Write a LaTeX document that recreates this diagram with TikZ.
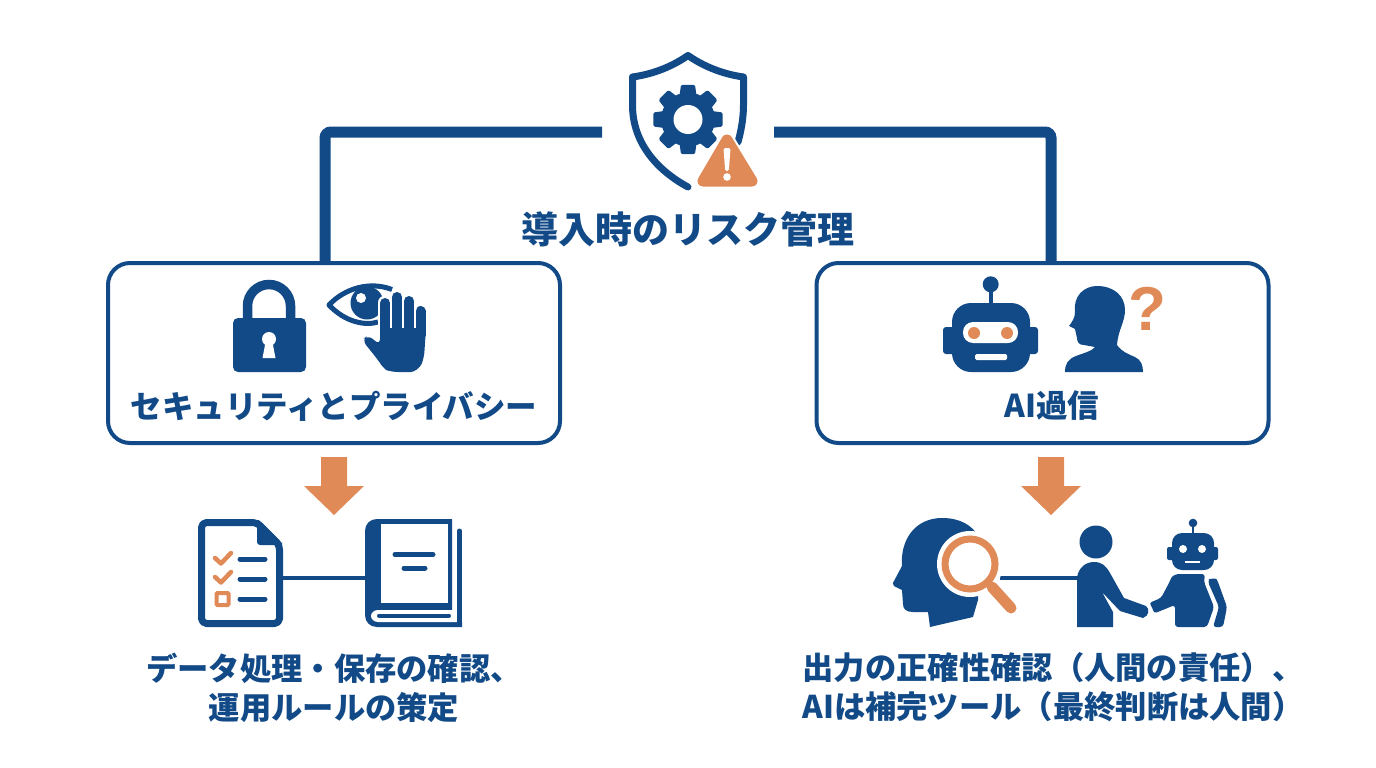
\documentclass[tikz,border=0pt]{standalone}
\usepackage{fontspec}
\setmainfont{Noto Sans CJK JP}
\newfontfamily\latinbold{Liberation Sans}
\definecolor{navy}{HTML}{124A87}
\definecolor{orng}{HTML}{E08A58}
\tikzset{
  link/.style={draw=navy,line width=11pt,rounded corners=6pt},
  thin link/.style={draw=navy,line width=4pt},
  panel/.style={draw=navy,line width=4pt,rounded corners=22pt,fill=white,minimum width=452pt,minimum height=180pt,inner sep=0pt},
  title text/.style={text=navy,font=\fontsize{37}{44}\selectfont\bfseries,inner sep=0pt},
  panel text/.style={text=navy,font=\fontsize{31.5}{38}\selectfont\bfseries,inner sep=0pt},
  foot text/.style={text=navy,font=\fontsize{31.3}{39}\selectfont\bfseries,align=center,inner sep=0pt},
  down arrow/.style={fill=orng,draw=none},
  navy line/.style={draw=navy,line width=5pt,line cap=round},
}
\begin{document}
\begin{tikzpicture}[x=1pt,y=-1pt]
\useasboundingbox[fill=white] (0,0) rectangle (1376,768);

% panels and texts
\node[panel] (secbox) at (334,353) {};
\node[panel] (aibox) at (1042.5,353) {};
\node[title text] (title) at (688,229) {導入時のリスク管理};
\node[panel text] (seclabel) at (334,406) {セキュリティとプライバシー};
\node[panel text] (ailabel) at (1052,406) {AI過信};
\node[foot text] (secfoot) at (334,688) {データ処理・保存の確認、\\運用ルールの策定};
\node[foot text] (aifoot) at (1053,687) {出力の正確性確認（人間の責任）、\\AIは補完ツール（最終判断は人間）};

% connectors from the top icon
\coordinate (topL) at (602,132);
\coordinate (topR) at (774,132);
\draw[link] (topL) -| (secbox.north -| 325,0);
\draw[link] (topR) -| (aibox.north -| 1051,0);

% shield
\draw[navy,line width=7pt,line join=round,line cap=round]
  (738,142) .. controls (742,128) and (743.5,115) .. (743.5,105) -- (743.5,77)
  .. controls (722,74) and (703,66) .. (688,55.5)
  .. controls (673,66) and (654,74) .. (632.5,77) -- (632.5,105)
  .. controls (632.5,145) and (660,172) .. (688,187);
% gear
\begin{scope}[shift={(688,119.5)}]
  \fill[navy] (0,0) circle (27);
  \foreach \a in {0,45,...,315}{
    \fill[navy,rotate=\a,rounded corners=1.5pt] (-9,-20) -- (-7,-34.7) -- (7,-34.7) -- (9,-20) -- cycle;
  }
  \fill[white] (0,0) circle (14.5);
\end{scope}
% warning triangle
\draw[white,fill=white,line width=15pt,line join=round] (727,140) -- (703,181) -- (752,181) -- cycle;
\draw[orng,fill=orng,line width=11pt,line join=round] (727,140) -- (703,181) -- (752,181) -- cycle;
\fill[white,rounded corners=1.5pt] (723.5,148) -- (730.5,148) -- (728.8,171) -- (725.2,171) -- cycle;
\fill[white] (727,177) circle (3.8);

% lock
\draw[navy,line width=9.5pt] (247.5,322) -- (247.5,306) arc[start angle=180,end angle=360,radius=21.5] -- (290.5,322);
\fill[navy,rounded corners=5pt] (233,318) rectangle (306,372);
\fill[white] (269,339) circle (7);
\fill[white] (266,340) -- (272,340) -- (275.5,358) -- (262.5,358) -- cycle;

% eye
\draw[navy,line width=5pt,line join=round] (392,289.5) .. controls (370,281) and (345,288) .. (329,305) .. controls (345,322) and (365,326) .. (378,322);
\fill[navy] (367,303) circle (16.5);
\fill[white] (361,298) circle (5);
% hand
\foreach \xa/\ya in {385/303,397/297,409/301,420.5/311}{
  \draw[white,line width=15pt,line cap=round] (\xa,335) -- (\xa,\ya);
}
\foreach \xa/\ya in {385/303,397/297,409/301,420.5/311}{
  \draw[navy,line width=10pt,line cap=round] (\xa,335) -- (\xa,\ya);
}
\fill[navy,rounded corners=6pt] (380,328) -- (426,328) -- (424,358) .. controls (420,368) and (414,372) .. (405,372) -- (392,372) .. controls (386,370) and (382,366) .. (378,360) -- (362,340) -- (368,335) -- (380,345) -- cycle;

% talking robot
\draw[navy,line width=4pt] (990.7,284) -- (990.7,305);
\fill[navy] (990.7,284.3) circle (8);
\fill[navy,rounded corners=3pt] (943,327) rectangle (1038,354);
\fill[navy,rounded corners=19pt] (952,303) rectangle (1030,372);
\fill[white,rounded corners=10pt] (963,322) rectangle (1018,343);
\fill[orng] (974,333) circle (6);
\fill[orng] (1007,333) circle (6);
\fill[white,rounded corners=1.5pt] (975,354) rectangle (1007,360);

% person with question
\fill[navy] (1065,372) .. controls (1065,364) and (1068,359) .. (1076,356)
  .. controls (1084,353) and (1092,351) .. (1095,347)
  -- (1084,345) .. controls (1079,345) and (1077,342) .. (1077,338)
  -- (1075,329) -- (1069,326) .. controls (1072,322) and (1075,318) .. (1075,312)
  .. controls (1073,296) and (1084,286) .. (1097,286)
  .. controls (1114,286) and (1125,296) .. (1125,310)
  .. controls (1125,322) and (1118,330) .. (1117,345)
  .. controls (1122,352) and (1128,354) .. (1135,357)
  .. controls (1141,360) and (1143,365) .. (1143,372) -- cycle;
\node[inner sep=0pt,text=orng,font=\latinbold\fontsize{62}{62}\selectfont\bfseries] (question) at (1147,309) {?};

% down arrows
\fill[down arrow] (321,457) -- (347,457) -- (347,486) -- (364,486) -- (334,515) -- (304,486) -- (321,486) -- cycle;
\fill[down arrow] (1038,457) -- (1064,457) -- (1064,486) -- (1081,486) -- (1051,515) -- (1021,486) -- (1038,486) -- cycle;

% checklist document
\coordinate (docR) at (283,578);
\coordinate (bookL) at (365,578);
\draw[thin link] (docR) -- (bookL);
\draw[navy,line width=7pt,line join=round,fill=white,rounded corners=5pt] (201.5,522.5) -- (257,522.5) -- (279.5,545) -- (279.5,623.5) -- (201.5,623.5) -- cycle;
\fill[navy,rounded corners=3pt] (257,520) -- (257,545) -- (282,545) -- (282,543) -- (259,520) -- cycle;
\draw[orng,line width=4.5pt,line cap=round,line join=round] (215,558) -- (221,563.5) -- (231,553);
\draw[orng,line width=4.5pt,line cap=round,line join=round] (215,577) -- (221,582.5) -- (231,572);
\draw[orng,line width=4pt,rounded corners=1pt] (216.5,593) rectangle (228.5,605);
\draw[navy line] (240,559) -- (265,559);
\draw[navy line] (240,579) -- (265,579);
\draw[navy line] (240,599) -- (265,599);

% book
\fill[navy] (377,519) -- (452,519) -- (452,622) -- (462,622) -- (462,627) -- (377,627)
  .. controls (370,627) and (365,622) .. (365,615) -- (365,531)
  .. controls (365,524) and (370,519) .. (377,519) -- cycle;
\fill[white] (381,524) rectangle (448,603);
\fill[white] (378,610) -- (457,610) -- (457,622) -- (378,622) .. controls (374,622) and (371,619) .. (371,616) .. controls (371,613) and (374,610) .. (378,610) -- cycle;
\draw[navy,line width=4pt,line cap=round] (379,615.5) -- (449,615.5);
\draw[navy,line width=5pt,line cap=round] (459.5,531) -- (459.5,624);
\draw[navy line] (395,554.5) -- (433,554.5);
\draw[navy line] (404,568) -- (425,568);

% connector magnifier to person
\coordinate (lensR) at (1000,578);
\coordinate (personL) at (1078,578);
\draw[thin link] (lensR) -- (personL);

% head with magnifier
\fill[navy] (930,627) -- (928,612) -- (913,612)
  .. controls (906,612) and (903,609) .. (903,604)
  -- (902,590) -- (894,586) .. controls (892,584) and (893,582) .. (894,581)
  -- (902,566) .. controls (900,540) and (915,518) .. (942,518)
  .. controls (960,518) and (972,525) .. (979,537)
  -- (978,600) -- (973,617) -- cycle;
\fill[white] (970,564) circle (33);
\draw[orng,line width=7pt] (970,564) circle (25);
\draw[orng,line width=11pt,line cap=round] (992,587) -- (1011,608);

% person shaking hands
\fill[navy] (1096,542) circle (16.5);
\fill[navy] (1077,627) -- (1077,577) .. controls (1079,567) and (1086,562) .. (1094,562)
  .. controls (1102,562) and (1106,566) .. (1110,573)
  -- (1124,598) -- (1146,606) .. controls (1150,609) and (1149,616) .. (1143,618)
  -- (1120,611) -- (1102,592) -- (1113,612) -- (1113,627) -- cycle;

% small robot
\draw[navy,line width=2.5pt] (1193,523) -- (1193,535);
\fill[navy] (1193,523) circle (4.3);
\fill[navy,rounded corners=2pt] (1167,547) rectangle (1218,560);
\fill[navy,rounded corners=10pt] (1172,533) rectangle (1214,570);
\fill[white] (1183,549) circle (4);
\fill[white] (1202,549) circle (4);
\draw[white,line width=2.5pt] (1185,562) -- (1200,562);
\fill[navy,rounded corners=3pt] (1175,627) -- (1175,605) -- (1154,613.5) .. controls (1153,610) and (1152,607) .. (1149,603)
  -- (1161,598) -- (1170,581) .. controls (1172,576) and (1176,574) .. (1182,574)
  -- (1205,574) -- (1204,582) -- (1214,607) -- (1207,627) -- cycle;
\fill[navy,rounded corners=3pt] (1208,582) .. controls (1209,579) and (1216,578) .. (1218,582)
  -- (1227,607) -- (1223,627) -- (1213,627) -- (1219,607) -- cycle;
\end{tikzpicture}
\end{document}
